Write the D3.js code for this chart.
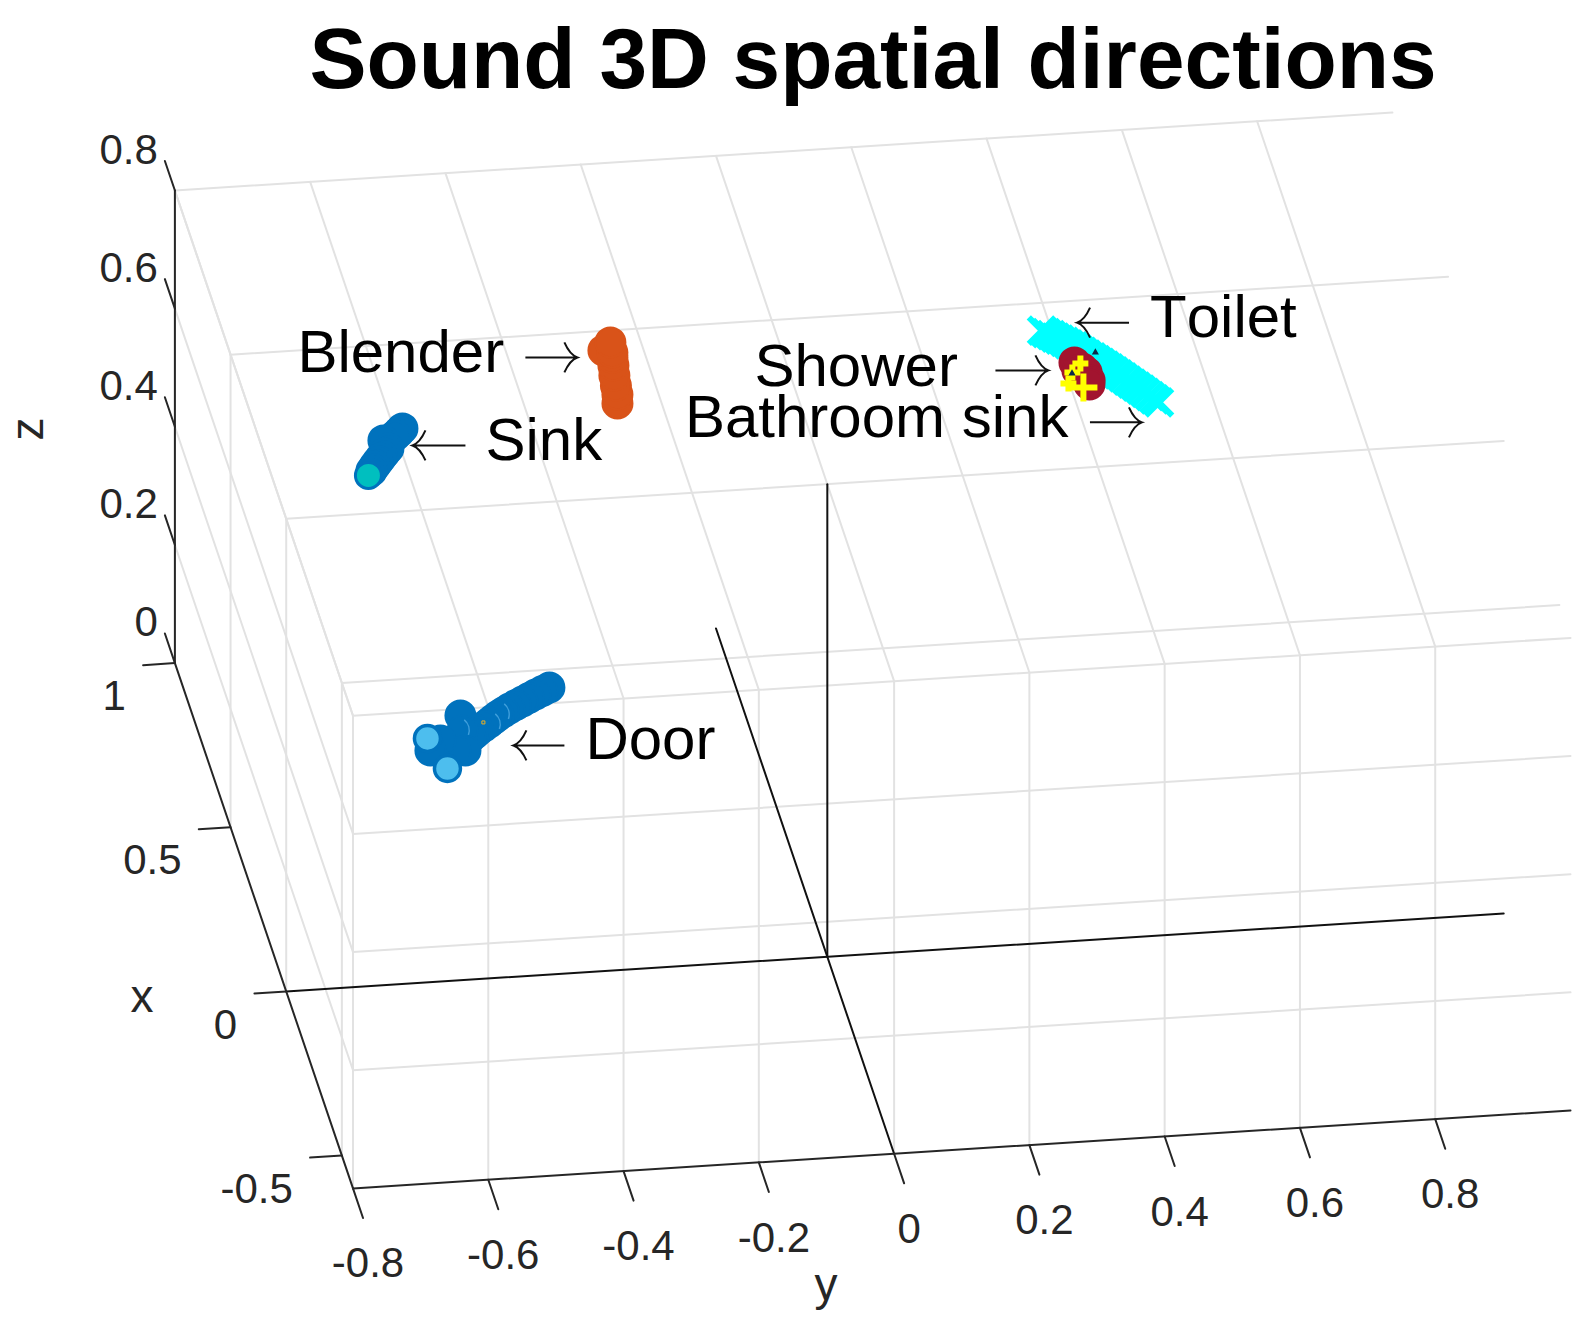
<!DOCTYPE html>
<html>
<head>
<meta charset="utf-8">
<script src="https://cdn.jsdelivr.net/npm/d3@7"></script>
<style>
  body { margin: 0; background: #fff; }
  text { font-family: "Liberation Sans", Arial, sans-serif; font-kerning: none; }
</style>
</head>
<body>
<svg id="chart"></svg>
<script>
// axis limits and ticks
var xLim = [-0.6, 1], yLim = [-0.8, 1], zLim = [0, 0.8];
var xTicks = [-0.5, 0, 0.5, 1];
var yTicks = [-0.8, -0.6, -0.4, -0.2, 0, 0.2, 0.4, 0.6, 0.8];
var zTicks = [0, 0.2, 0.4, 0.6, 0.8];
var xTickLabels = ["-0.5", "0", "0.5", "1"];
var yTickLabels = ["-0.8", "-0.6", "-0.4", "-0.2", "0", "0.2", "0.4", "0.6", "0.8"];
var zTickLabels = ["0", "0.2", "0.4", "0.6", "0.8"];

// sound directions [x, y, z], in drawing order
var blender = [[0.6330, -0.2061, 0.6], [0.6599, -0.2017, 0.6], [0.6869, -0.1995, 0.6], [0.7171, -0.1968, 0.6],
  [0.7471, -0.1933, 0.6], [0.7700, -0.1910, 0.6], [0.7937, -0.2004, 0.6], [0.7860, -0.1884, 0.6], [0.8162, -0.1864, 0.6]];
var sink = [[0.5995, -0.5295, 0.6], [0.590, -0.536, 0.6], [0.5800, -0.5431, 0.6], [0.5674, -0.5629, 0.6],
  [0.5426, -0.5596, 0.6], [0.5285, -0.5680, 0.6], [0.5143, -0.5761, 0.6], [0.503, -0.5825, 0.6],
  [0.4916, -0.5887, 0.6], [0.4787, -0.5952, 0.6]];
var sinkLast = [[0.4659, -0.6018, 0.6]];
var door = [[-0.2007, -0.4439, 0.6], [-0.2098, -0.4557, 0.6], [-0.2189, -0.4676, 0.6], [-0.2281, -0.4787, 0.6],
  [-0.2373, -0.4898, 0.6], [-0.2465, -0.5010, 0.6], [-0.2557, -0.5121, 0.6], [-0.2650, -0.5218, 0.6],
  [-0.2744, -0.5314, 0.6], [-0.2840, -0.5397, 0.6], [-0.2936, -0.5479, 0.6], [-0.3044, -0.5578, 0.6],
  [-0.3153, -0.5677, 0.6], [-0.3250, -0.5752, 0.6], [-0.3347, -0.5827, 0.6],
  [-0.2672, -0.5864, 0.6], [-0.3123, -0.5909, 0.6], [-0.3725, -0.5963, 0.6], [-0.3706, -0.6108, 0.6],
  [-0.3379, -0.6276, 0.6], [-0.3658, -0.6470, 0.6]];
var doorArcs = [[-0.2709, -0.5353, 0.6], [-0.2990, -0.5532, 0.6], [-0.3109, -0.6010, 0.6]];
var doorLast = [[-0.3294, -0.6454, 0.6], [-0.4227, -0.6312, 0.6]];
var doorSpeck = [[-0.2924, -0.5566, 0.6]];
var bathroomSink = [[0.769, 0.444, 0.6], [0.761, 0.449, 0.6], [0.754, 0.455, 0.6],
  [0.746, 0.460, 0.6], [0.739, 0.465, 0.6], [0.731, 0.471, 0.6], [0.723, 0.476, 0.6], [0.716, 0.482, 0.6],
  [0.707, 0.487, 0.6], [0.698, 0.492, 0.6], [0.689, 0.497, 0.6], [0.680, 0.503, 0.6], [0.671, 0.508, 0.6],
  [0.662, 0.513, 0.6], [0.653, 0.518, 0.6], [0.644, 0.523, 0.6], [0.634, 0.528, 0.6], [0.624, 0.533, 0.6],
  [0.614, 0.538, 0.6], [0.604, 0.543, 0.6], [0.594, 0.548, 0.6], [0.584, 0.553, 0.6], [0.574, 0.558, 0.6],
  [0.564, 0.563, 0.6], [0.553, 0.568, 0.6], [0.543, 0.573, 0.6], [0.533, 0.578, 0.6]];
var shower = [[0.6681, 0.4753, 0.6], [0.6486, 0.4839, 0.6], [0.6436, 0.4757, 0.6], [0.6361, 0.4880, 0.6],
  [0.6117, 0.4885, 0.6], [0.5996, 0.4862, 0.6]];
var toilet = [[0.5918, 0.4760, 0.6]];
var toiletSmall = [[0.6639, 0.4834, 0.6], [0.6386, 0.4674, 0.6], [0.6066, 0.4563, 0.6]];
var specks = [[0.6939, 0.5105, 0.6], [0.6357, 0.4664, 0.6]];

var width = 1587, height = 1326;

var svg = d3.select("#chart").attr("width", width).attr("height", height);

// the view is an oblique projection, each data axis moves the point along its own screen direction
var xToLeft = d3.scaleLinear().domain(xLim).range([66.8, -111.3]);
var xToTop = d3.scaleLinear().domain(xLim).range([197, -328.3]);
var yToLeft = d3.scaleLinear().domain(yLim).range([-541.1, 676.4]);
var yToTop = d3.scaleLinear().domain(yLim).range([34.6, -43.3]);
var zToTop = d3.scaleLinear().domain(zLim).range([0, -472.6]);
var originX = 827.3, originY = 956.8;

function px(p) { return originX + xToLeft(p[0]) + yToLeft(p[1]); }
function py(p) { return originY + xToTop(p[0]) + yToTop(p[1]) + zToTop(p[2]); }

function drawLines(cls, segs, color, w) {
  svg.append("g").attr("class", cls).selectAll("line")
    .data(segs)
    .enter()
    .append("line")
    .attr("x1", function(d) { return px(d[0]); })
    .attr("y1", function(d) { return py(d[0]); })
    .attr("x2", function(d) { return px(d[1]); })
    .attr("y2", function(d) { return py(d[1]); })
    .attr("stroke", color)
    .attr("stroke-width", w)
    .attr("stroke-linecap", "round");
}

// grids: left wall, front wall, and the plane at the top of z
var grid = [];
xTicks.forEach(function(x) {
  grid.push([[x, yLim[0], zLim[0]], [x, yLim[0], zLim[1]]]);
  grid.push([[x, yLim[0], zLim[1]], [x, yLim[1], zLim[1]]]);
});
yTicks.forEach(function(y) {
  grid.push([[xLim[0], y, zLim[0]], [xLim[0], y, zLim[1]]]);
  grid.push([[xLim[0], y, zLim[1]], [xLim[1], y, zLim[1]]]);
});
zTicks.forEach(function(z) {
  grid.push([[xLim[1], yLim[0], z], [xLim[0], yLim[0], z]]);
  grid.push([[xLim[0], yLim[0], z], [xLim[0], yLim[1], z]]);
});
drawLines("grid", grid.filter(function(s) { return s[0][2] > 0 || s[1][2] > 0; }), "#e2e2e2", 2);

// zero lines
drawLines("zero", [
  [[0, yLim[0], 0], [0, yLim[1], 0]],
  [[xLim[1], 0, 0], [xLim[0], 0, 0]],
  [[0, 0, 0], [0, 0, zLim[1]]]
], "#111", 2);

// axes and ticks
drawLines("axes", [
  [[xLim[1], yLim[0], zLim[0]], [xLim[1], yLim[0], zLim[1]]],
  [[xLim[1], yLim[0], 0], [xLim[0], yLim[0], 0]],
  [[xLim[0], yLim[0], 0], [xLim[0], yLim[1], 0]]
], "#262626", 2);

var tickX = 0.09, tickY = 0.047;
drawLines("ticks", xTicks.map(function(x) { return [[x, yLim[0], 0], [x, yLim[0] - tickY, 0]]; })
  .concat(yTicks.map(function(y) { return [[xLim[0], y, 0], [xLim[0] - tickX, y, 0]]; }))
  .concat(zTicks.map(function(z) { return [[xLim[1], yLim[0], z], [xLim[1] + tickX, yLim[0], z]]; })),
  "#262626", 2);

function tickText(values, labels, toPoint, dx, dy, anchor) {
  svg.append("g").selectAll("text")
    .data(values)
    .enter()
    .append("text")
    .attr("x", function(d) { return px(toPoint(d)) + dx; })
    .attr("y", function(d) { return py(toPoint(d)) + dy; })
    .attr("text-anchor", anchor)
    .attr("dominant-baseline", "middle")
    .attr("font-size", 42)
    .attr("fill", "#262626")
    .text(function(d, i) { return labels[i]; });
}
tickText(xTicks, xTickLabels, function(x) { return [x, yLim[0], 0]; }, -49, 36, "end");
tickText(yTicks, yTickLabels, function(y) { return [xLim[0], y, 0]; }, 15, 78, "middle");
tickText(zTicks, zTickLabels, function(z) { return [xLim[1], yLim[0], z]; }, -17, -38, "end");

// axis titles
svg.append("text").attr("x", 142).attr("y", 1012).attr("text-anchor", "middle")
  .attr("font-size", 46).attr("fill", "#262626").text("x");
svg.append("text").attr("x", 826).attr("y", 1300).attr("text-anchor", "middle")
  .attr("font-size", 46).attr("fill", "#262626").text("y");
svg.append("text").attr("transform", "translate(43,429) rotate(-90)").attr("text-anchor", "middle")
  .attr("font-size", 46).attr("fill", "#262626").text("z");

// sound markers
function circles(points, r, fill, edge, w) {
  svg.append("g").selectAll("circle")
    .data(points)
    .enter()
    .append("circle")
    .attr("cx", px)
    .attr("cy", py)
    .attr("r", r)
    .attr("fill", fill)
    .attr("stroke", edge)
    .attr("stroke-width", w);
}

function symbols(points, type, size, color, w) {
  svg.append("g").selectAll("path")
    .data(points)
    .enter()
    .append("path")
    .attr("d", d3.symbol(type, size))
    .attr("transform", function(d) { return "translate(" + px(d) + "," + py(d) + ")"; })
    .attr("fill", "none")
    .attr("stroke", color)
    .attr("stroke-width", w);
}

var blue = "#0072bd", lightBlue = "#4dbeee";

symbols(bathroomSink, d3.symbolTimes, 460, "#00ffff", 6);
circles(shower, 15, "#a2142f", "#a2142f", 2);
symbols(toilet, d3.symbolPlus, 258, "#ffff00", 6);
symbols(toiletSmall, d3.symbolPlus, 85, "#ffff00", 6);
svg.append("g").selectAll("path")
  .data(specks)
  .enter()
  .append("path")
  .attr("d", d3.symbol(d3.symbolTriangle, 22))
  .attr("transform", function(d) { return "translate(" + px(d) + "," + py(d) + ")"; })
  .attr("fill", "#0b2a4a");

circles(blender, 15, "#d95319", "#d95319", 2);
circles(sink, 14.5, blue, blue, 3);
circles(sinkLast, 13, "#00bfbf", blue, 3);

circles(door, 15, blue, blue, 2);
svg.append("g").selectAll("path")
  .data(doorArcs)
  .enter()
  .append("path")
  .attr("d", d3.arc().innerRadius(13).outerRadius(14.5).startAngle(0.7).endAngle(1.9))
  .attr("transform", function(d) { return "translate(" + px(d) + "," + py(d) + ")"; })
  .attr("fill", "#3f9fdc");
symbols(doorSpeck, d3.symbolSquare, 9, "#edb120", 1);
circles(doorLast, 13, lightBlue, blue, 3.5);

// labels and their arrows, offsets are from the point each one names
var annotations = [
  { name: "Blender", at: blender[8], textDx: -313, textDy: 30, tailDx: -85, tipDx: -33, arrowDy: 15 },
  { name: "Sink", at: sink[0], textDx: 83, textDy: 32, tailDx: 63, tipDx: 10, arrowDy: 17 },
  { name: "Door", at: door[0], textDx: 36, textDy: 72, tailDx: 15, tipDx: -36, arrowDy: 58 },
  { name: "Toilet", at: bathroomSink[0], textDx: 108, textDy: 6, tailDx: 87, tipDx: 35, arrowDy: -8 },
  { name: "Shower", at: shower[0], textDx: -320, textDy: 24, tailDx: -79, tipDx: -26, arrowDy: 8 },
  { name: "Bathroom sink", at: bathroomSink[26], textDx: -474, textDy: 35, tailDx: -69, tipDx: -17, arrowDy: 20 }
];

function arrowPath(a) {
  var y = py(a.at) + a.arrowDy, tail = px(a.at) + a.tailDx, tip = px(a.at) + a.tipDx;
  var dir = tip > tail ? -1 : 1;
  var path = d3.path();
  path.moveTo(tail, y);
  path.lineTo(tip, y);
  path.moveTo(tip + dir * 13, y - 15);
  path.quadraticCurveTo(tip + dir * 7.5, y - 2.5, tip, y);
  path.quadraticCurveTo(tip + dir * 7.5, y + 2.5, tip + dir * 13, y + 15);
  return path.toString();
}

svg.append("g").selectAll("path")
  .data(annotations)
  .enter()
  .append("path")
  .attr("d", arrowPath)
  .attr("fill", "none")
  .attr("stroke", "#111")
  .attr("stroke-width", 2);

svg.append("g").selectAll("text")
  .data(annotations)
  .enter()
  .append("text")
  .attr("x", function(d) { return px(d.at) + d.textDx; })
  .attr("y", function(d) { return py(d.at) + d.textDy; })
  .attr("font-size", 60)
  .attr("fill", "#000")
  .text(function(d) { return d.name; });

// title
svg.append("text")
  .attr("x", 873)
  .attr("y", 88)
  .attr("text-anchor", "middle")
  .attr("font-size", 85.6)
  .attr("font-weight", "bold")
  .attr("fill", "#000")
  .text("Sound 3D spatial directions");
</script>
</body>
</html>
